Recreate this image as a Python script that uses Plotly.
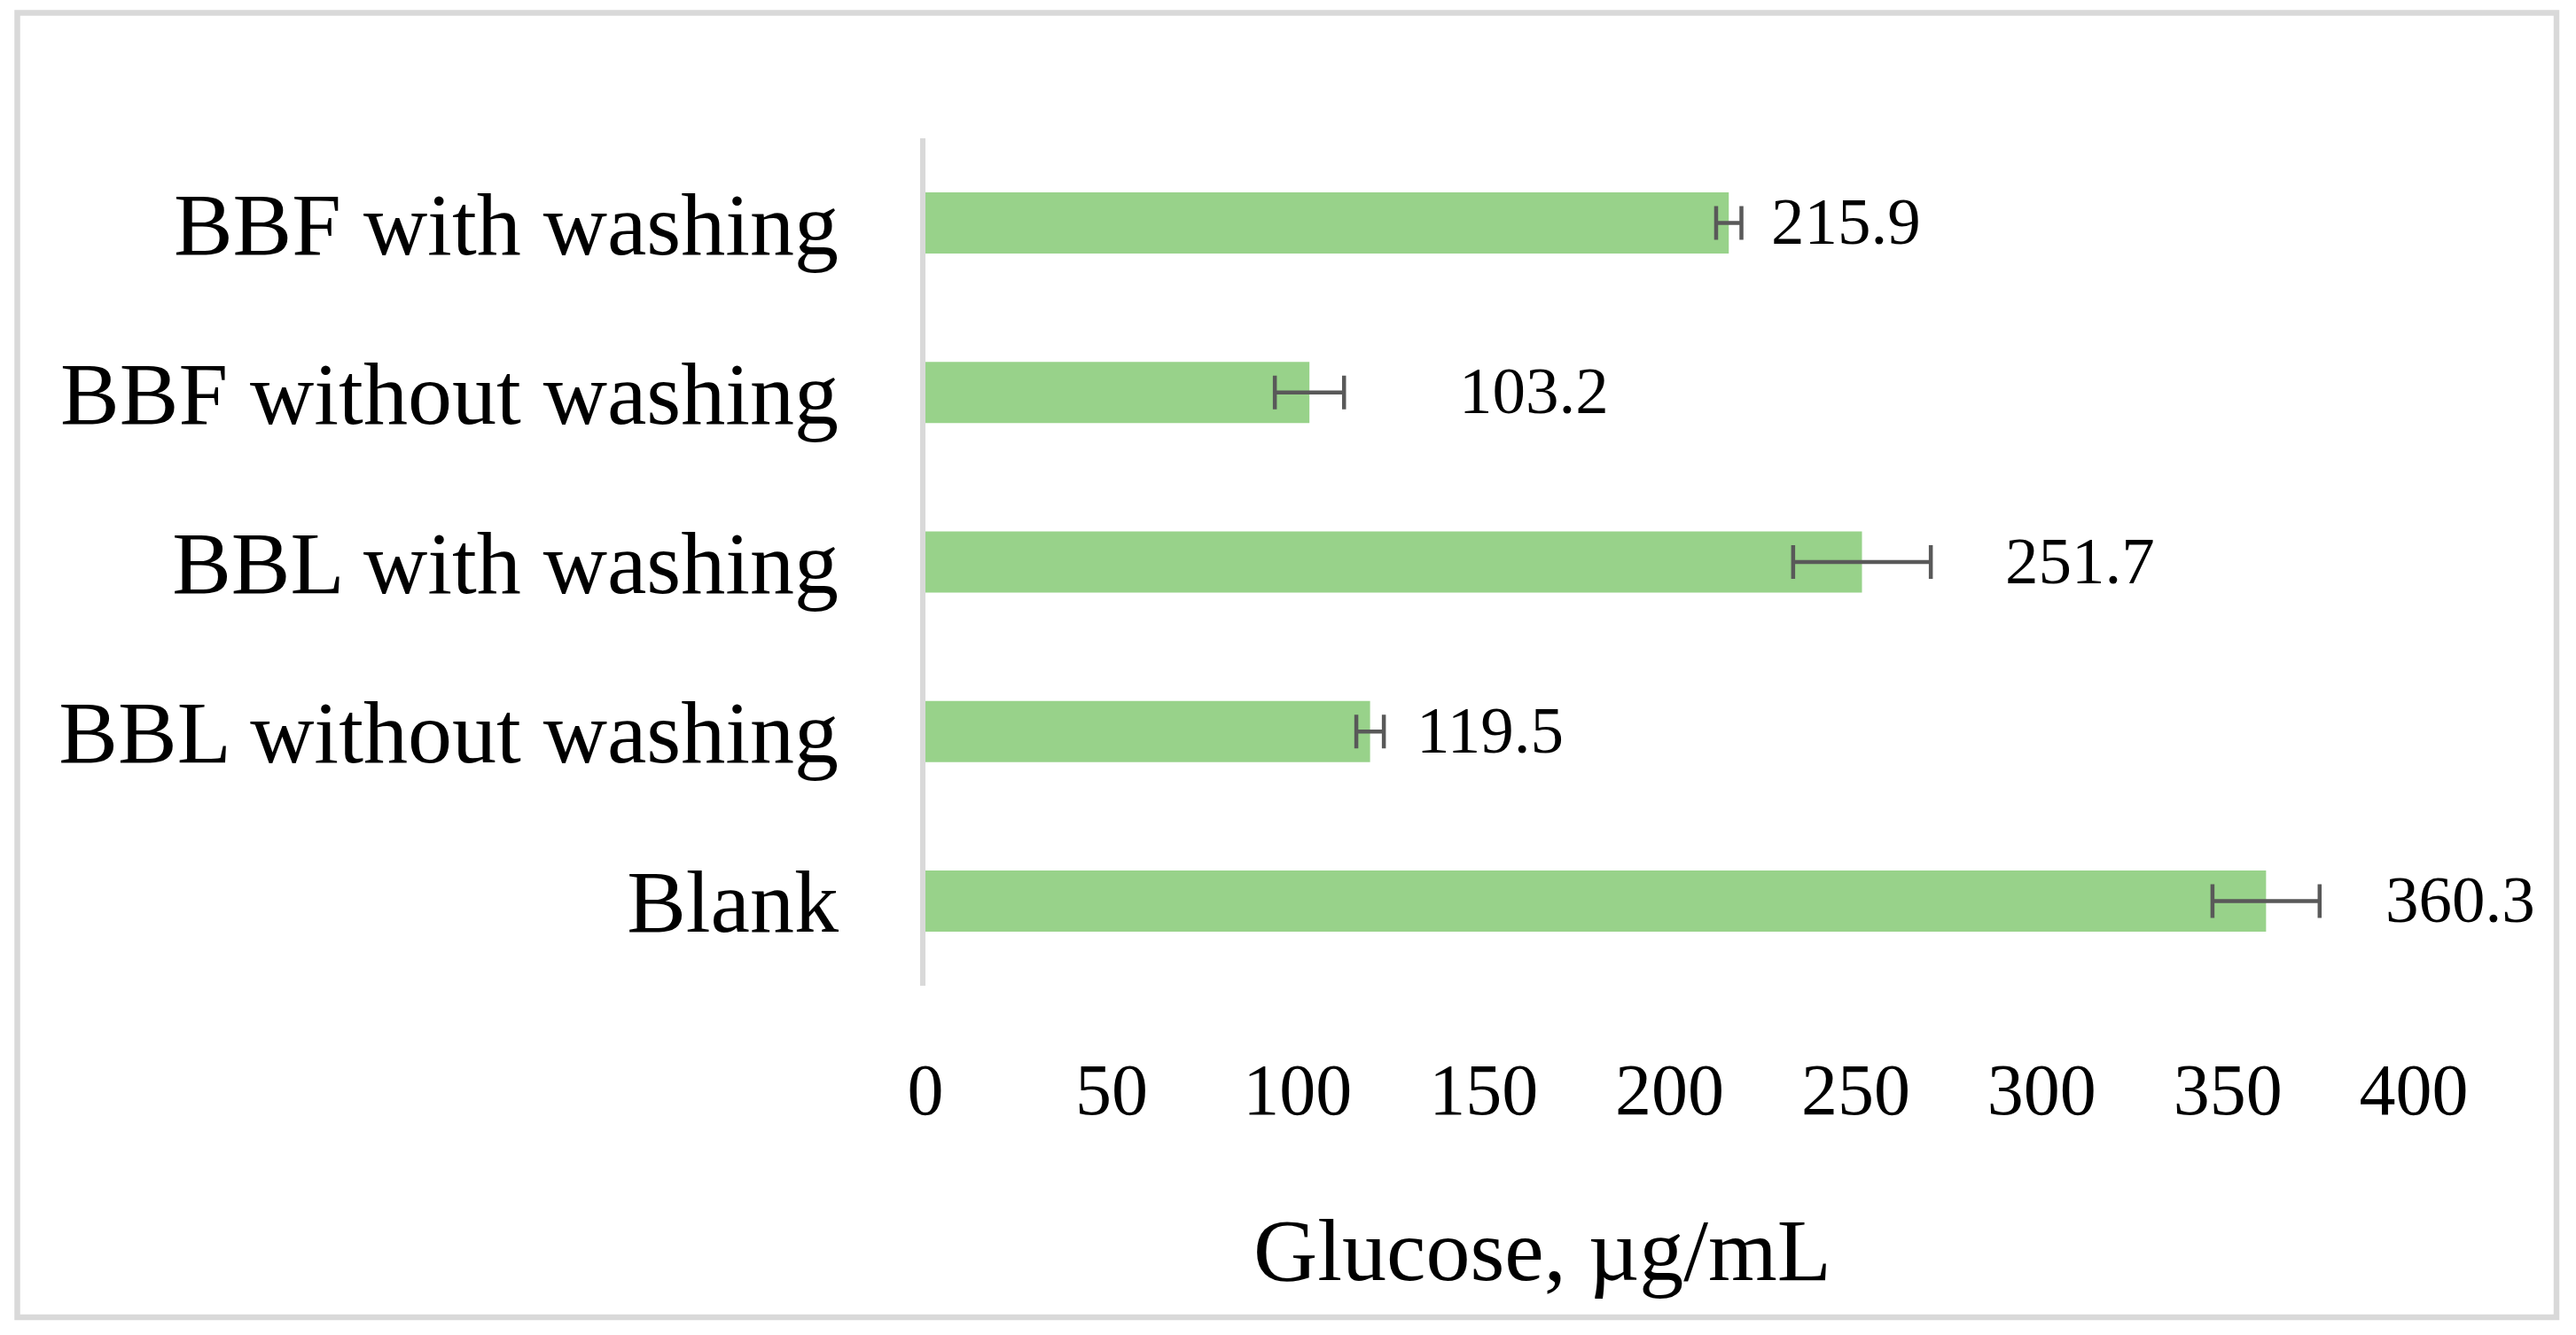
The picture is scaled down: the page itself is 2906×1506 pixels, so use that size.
import plotly.graph_objects as go

# ---- data (top to bottom as shown) ----
categories = ["BBF with washing", "BBF without washing", "BBL with washing",
              "BBL without washing", "Blank"]
glucose = [215.9, 103.2, 251.7, 119.5, 360.3]
glucose_err = [3.4, 9.3, 18.5, 3.7, 14.4]
value_labels = ["215.9", "103.2", "251.7", "119.5", "360.3"]
label_offsets_px = [46, 167, 159, 50, 133]   # manual label shifts, as in the source

x_ticks = [0, 50, 100, 150, 200, 250, 300, 350, 400]
x_title = "Glucose, µg/mL"

# ---- layout geometry (page pixels) ----
OFF = 8                       # default body margin of the html page
W, H = 2906 - OFF, 1506 - OFF
PL, PR, PT, PB = 1044 - OFF, 2723 - OFF, 156 - OFF, 1112 - OFF   # plot area edges
FONT = "Palatino Linotype, Book Antiqua, Palatino, Liberation Serif, serif"
BAR_COLOR = "#98D28A"
ERR_COLOR = "#595959"
FRAME = "#D9D9D9"


def px_to_paper_x(px):
    return (px - OFF - PL) / (PR - PL)


def px_to_paper_y(py):
    return (PB - (py - OFF)) / (PB - PT)


fig = go.Figure()
fig.add_trace(go.Bar(
    y=categories, x=glucose, orientation="h",
    marker=dict(color=BAR_COLOR, line=dict(width=0)),
    error_x=dict(type="data", array=glucose_err, visible=True,
                 color=ERR_COLOR, thickness=4.5, width=19),
    hoverinfo="x+y",
))

annotations = []
for cat, val, lab, off in zip(categories, glucose, value_labels, label_offsets_px):
    annotations.append(dict(
        x=val, y=cat, xref="x", yref="y", text=lab, showarrow=False,
        xanchor="left", yanchor="middle", xshift=off, yshift=2,
        font=dict(family=FONT, size=75, color="#000000"),
    ))

annotations.append(dict(
    x=px_to_paper_x(1740), y=px_to_paper_y(1410), xref="paper", yref="paper",
    text=x_title, showarrow=False, xanchor="center", yanchor="middle",
    font=dict(family=FONT, size=100, color="#000000"),
))

fig.update_layout(
    width=W, height=H,
    margin=dict(l=PL, r=W - PR, t=PT, b=H - PB, autoexpand=False),
    paper_bgcolor="white", plot_bgcolor="white",
    bargap=0.639,
    showlegend=False,
    font=dict(family=FONT, color="#000000"),
    annotations=annotations,
    shapes=[dict(
        type="rect", xref="paper", yref="paper",
        x0=px_to_paper_x(19.5), x1=px_to_paper_x(2884),
        y0=px_to_paper_y(1486), y1=px_to_paper_y(14.5),
        line=dict(color=FRAME, width=6.5), fillcolor="rgba(0,0,0,0)", layer="below",
    )],
    xaxis=dict(
        range=[0, 400], tickvals=x_ticks, ticktext=[str(t) for t in x_ticks],
        showgrid=False, zeroline=False, showline=False,
        ticks="outside", ticklen=46, tickcolor="rgba(0,0,0,0)",
        tickfont=dict(family=FONT, size=82, color="#000000"),
        automargin=False, fixedrange=True,
    ),
    yaxis=dict(
        autorange="reversed", type="category",
        showgrid=False, zeroline=False,
        showline=True, linecolor=FRAME, linewidth=6,
        ticks="outside", ticklen=72, tickcolor="rgba(0,0,0,0)",
        tickfont=dict(family=FONT, size=100, color="#000000"),
        automargin=False, fixedrange=True,
    ),
)

fig.write_html("out.html")
